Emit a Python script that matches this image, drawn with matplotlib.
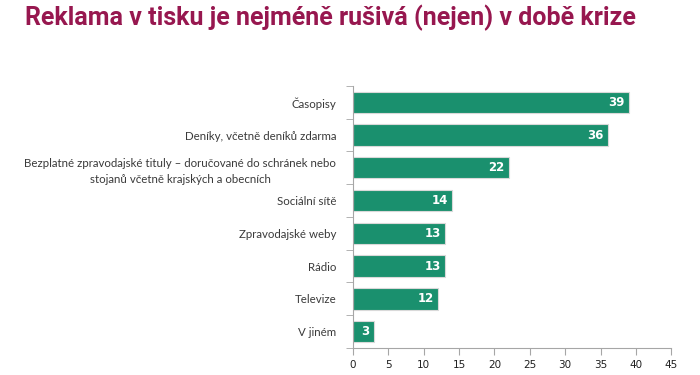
import matplotlib.pyplot as plt

categories = [
    "Časopisy",
    "Deníky, včetně deníků zdarma",
    "Bezplatné zpravodajské tituly – doručované do schránek nebo\nstojanů včetně krajských a obecních",
    "Sociální sítě",
    "Zpravodajské weby",
    "Rádio",
    "Televize",
    "V jiném",
]
values = [39, 36, 22, 14, 13, 13, 12, 3]
xticks = [0, 5, 10, 15, 20, 25, 30, 35, 40, 45]

bar_color = "#1a906e"
axis_color = "#a6a6a6"
text_color = "#3a3a3a"

fig = plt.figure(figsize=(7, 3.75), dpi=100)
ax = fig.add_axes([0.504, 0.072, 0.455, 0.699])

pos = list(range(len(categories)))
ax.barh(pos, values, height=0.65, color=bar_color, edgecolor="#d9d9d9", linewidth=0.8)
for p, v in zip(pos, values):
    ax.text(v - 0.6, p, str(v), ha="right", va="center", color="white",
            fontweight="bold", fontsize=8.5, family="DejaVu Sans")

ax.set_ylim(len(categories) - 0.5, -0.5)
ax.set_xlim(0, 45)
ax.set_xticks(xticks)
ax.set_xticklabels([str(t) for t in xticks], fontsize=7.5, color="#202020")

# category labels without tick marks, ticks sit between categories
ax.set_yticks(pos)
ax.set_yticklabels(categories, fontsize=8.3, color=text_color, family="Lato",
                   multialignment="center", linespacing=1.55)
ax.tick_params(axis="y", length=0, pad=12)
ax.set_yticks([p - 0.5 for p in range(len(categories) + 1)], minor=True)
ax.tick_params(axis="y", which="minor", length=5, color=axis_color)
ax.tick_params(axis="x", length=5, color=axis_color, direction="out")

for s in ["top", "right"]:
    ax.spines[s].set_visible(False)
ax.spines["left"].set_color(axis_color)
ax.spines["bottom"].set_color(axis_color)

fig.text(0.036, 0.952, "Reklama v tisku je nejméně rušivá (nejen) v době krize",
         fontsize=18, fontweight="bold", color="#97174f", va="center",
         family="Roboto")

fig.savefig("out.png", dpi=100)
